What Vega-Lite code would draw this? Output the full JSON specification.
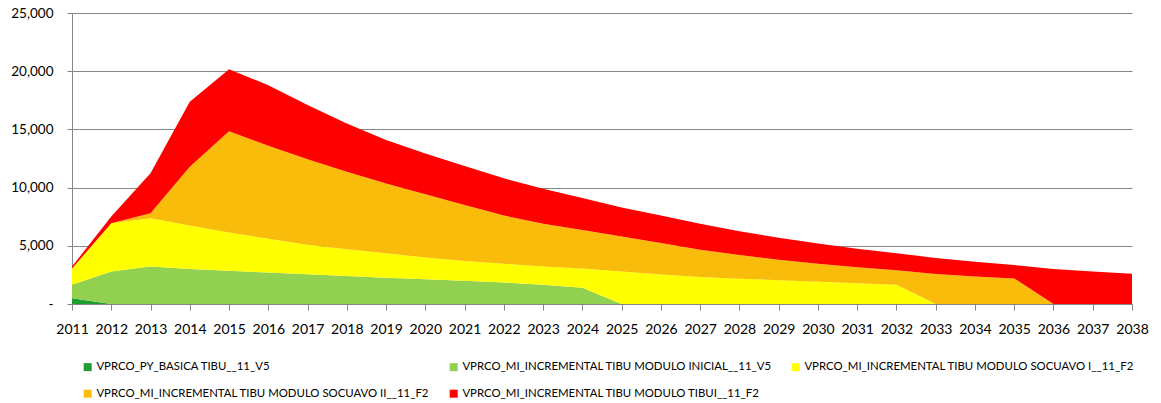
{
  "$schema": "https://vega.github.io/schema/vega-lite/v6.json",
  "autosize": "none",
  "width": 1060,
  "height": 291,
  "padding": {"left": 72, "top": 13, "right": 29, "bottom": 99},
  "background": "white",
  "config": {
    "font": "Lato",
    "view": {"stroke": null}
  },
  "data": {
    "values": [
      {"year": 2011, "VPRCO_PY_BASICA TIBU__11_V5": 500, "VPRCO_MI_INCREMENTAL TIBU MODULO INICIAL__11_V5": 1150, "VPRCO_MI_INCREMENTAL TIBU MODULO SOCUAVO I__11_F2": 1400, "VPRCO_MI_INCREMENTAL TIBU MODULO SOCUAVO II__11_F2": 0, "VPRCO_MI_INCREMENTAL TIBU MODULO TIBUI__11_F2": 170},
      {"year": 2012, "VPRCO_PY_BASICA TIBU__11_V5": 0, "VPRCO_MI_INCREMENTAL TIBU MODULO INICIAL__11_V5": 2800, "VPRCO_MI_INCREMENTAL TIBU MODULO SOCUAVO I__11_F2": 4140, "VPRCO_MI_INCREMENTAL TIBU MODULO SOCUAVO II__11_F2": 0, "VPRCO_MI_INCREMENTAL TIBU MODULO TIBUI__11_F2": 570},
      {"year": 2013, "VPRCO_PY_BASICA TIBU__11_V5": 0, "VPRCO_MI_INCREMENTAL TIBU MODULO INICIAL__11_V5": 3220, "VPRCO_MI_INCREMENTAL TIBU MODULO SOCUAVO I__11_F2": 4150, "VPRCO_MI_INCREMENTAL TIBU MODULO SOCUAVO II__11_F2": 430, "VPRCO_MI_INCREMENTAL TIBU MODULO TIBUI__11_F2": 3430},
      {"year": 2014, "VPRCO_PY_BASICA TIBU__11_V5": 0, "VPRCO_MI_INCREMENTAL TIBU MODULO INICIAL__11_V5": 3000, "VPRCO_MI_INCREMENTAL TIBU MODULO SOCUAVO I__11_F2": 3750, "VPRCO_MI_INCREMENTAL TIBU MODULO SOCUAVO II__11_F2": 5050, "VPRCO_MI_INCREMENTAL TIBU MODULO TIBUI__11_F2": 5570},
      {"year": 2015, "VPRCO_PY_BASICA TIBU__11_V5": 0, "VPRCO_MI_INCREMENTAL TIBU MODULO INICIAL__11_V5": 2850, "VPRCO_MI_INCREMENTAL TIBU MODULO SOCUAVO I__11_F2": 3300, "VPRCO_MI_INCREMENTAL TIBU MODULO SOCUAVO II__11_F2": 8700, "VPRCO_MI_INCREMENTAL TIBU MODULO TIBUI__11_F2": 5320},
      {"year": 2016, "VPRCO_PY_BASICA TIBU__11_V5": 0, "VPRCO_MI_INCREMENTAL TIBU MODULO INICIAL__11_V5": 2700, "VPRCO_MI_INCREMENTAL TIBU MODULO SOCUAVO I__11_F2": 2900, "VPRCO_MI_INCREMENTAL TIBU MODULO SOCUAVO II__11_F2": 8000, "VPRCO_MI_INCREMENTAL TIBU MODULO TIBUI__11_F2": 5200},
      {"year": 2017, "VPRCO_PY_BASICA TIBU__11_V5": 0, "VPRCO_MI_INCREMENTAL TIBU MODULO INICIAL__11_V5": 2550, "VPRCO_MI_INCREMENTAL TIBU MODULO SOCUAVO I__11_F2": 2550, "VPRCO_MI_INCREMENTAL TIBU MODULO SOCUAVO II__11_F2": 7330, "VPRCO_MI_INCREMENTAL TIBU MODULO TIBUI__11_F2": 4670},
      {"year": 2018, "VPRCO_PY_BASICA TIBU__11_V5": 0, "VPRCO_MI_INCREMENTAL TIBU MODULO INICIAL__11_V5": 2400, "VPRCO_MI_INCREMENTAL TIBU MODULO SOCUAVO I__11_F2": 2300, "VPRCO_MI_INCREMENTAL TIBU MODULO SOCUAVO II__11_F2": 6670, "VPRCO_MI_INCREMENTAL TIBU MODULO TIBUI__11_F2": 4140},
      {"year": 2019, "VPRCO_PY_BASICA TIBU__11_V5": 0, "VPRCO_MI_INCREMENTAL TIBU MODULO INICIAL__11_V5": 2250, "VPRCO_MI_INCREMENTAL TIBU MODULO SOCUAVO I__11_F2": 2100, "VPRCO_MI_INCREMENTAL TIBU MODULO SOCUAVO II__11_F2": 6000, "VPRCO_MI_INCREMENTAL TIBU MODULO TIBUI__11_F2": 3730},
      {"year": 2020, "VPRCO_PY_BASICA TIBU__11_V5": 0, "VPRCO_MI_INCREMENTAL TIBU MODULO INICIAL__11_V5": 2120, "VPRCO_MI_INCREMENTAL TIBU MODULO SOCUAVO I__11_F2": 1880, "VPRCO_MI_INCREMENTAL TIBU MODULO SOCUAVO II__11_F2": 5430, "VPRCO_MI_INCREMENTAL TIBU MODULO TIBUI__11_F2": 3510},
      {"year": 2021, "VPRCO_PY_BASICA TIBU__11_V5": 0, "VPRCO_MI_INCREMENTAL TIBU MODULO INICIAL__11_V5": 2000, "VPRCO_MI_INCREMENTAL TIBU MODULO SOCUAVO I__11_F2": 1700, "VPRCO_MI_INCREMENTAL TIBU MODULO SOCUAVO II__11_F2": 4800, "VPRCO_MI_INCREMENTAL TIBU MODULO TIBUI__11_F2": 3350},
      {"year": 2022, "VPRCO_PY_BASICA TIBU__11_V5": 0, "VPRCO_MI_INCREMENTAL TIBU MODULO INICIAL__11_V5": 1850, "VPRCO_MI_INCREMENTAL TIBU MODULO SOCUAVO I__11_F2": 1600, "VPRCO_MI_INCREMENTAL TIBU MODULO SOCUAVO II__11_F2": 4150, "VPRCO_MI_INCREMENTAL TIBU MODULO TIBUI__11_F2": 3200},
      {"year": 2023, "VPRCO_PY_BASICA TIBU__11_V5": 0, "VPRCO_MI_INCREMENTAL TIBU MODULO INICIAL__11_V5": 1650, "VPRCO_MI_INCREMENTAL TIBU MODULO SOCUAVO I__11_F2": 1580, "VPRCO_MI_INCREMENTAL TIBU MODULO SOCUAVO II__11_F2": 3670, "VPRCO_MI_INCREMENTAL TIBU MODULO TIBUI__11_F2": 3000},
      {"year": 2024, "VPRCO_PY_BASICA TIBU__11_V5": 0, "VPRCO_MI_INCREMENTAL TIBU MODULO INICIAL__11_V5": 1400, "VPRCO_MI_INCREMENTAL TIBU MODULO SOCUAVO I__11_F2": 1650, "VPRCO_MI_INCREMENTAL TIBU MODULO SOCUAVO II__11_F2": 3300, "VPRCO_MI_INCREMENTAL TIBU MODULO TIBUI__11_F2": 2750},
      {"year": 2025, "VPRCO_PY_BASICA TIBU__11_V5": 0, "VPRCO_MI_INCREMENTAL TIBU MODULO INICIAL__11_V5": 0, "VPRCO_MI_INCREMENTAL TIBU MODULO SOCUAVO I__11_F2": 2800, "VPRCO_MI_INCREMENTAL TIBU MODULO SOCUAVO II__11_F2": 3000, "VPRCO_MI_INCREMENTAL TIBU MODULO TIBUI__11_F2": 2500},
      {"year": 2026, "VPRCO_PY_BASICA TIBU__11_V5": 0, "VPRCO_MI_INCREMENTAL TIBU MODULO INICIAL__11_V5": 0, "VPRCO_MI_INCREMENTAL TIBU MODULO SOCUAVO I__11_F2": 2540, "VPRCO_MI_INCREMENTAL TIBU MODULO SOCUAVO II__11_F2": 2690, "VPRCO_MI_INCREMENTAL TIBU MODULO TIBUI__11_F2": 2370},
      {"year": 2027, "VPRCO_PY_BASICA TIBU__11_V5": 0, "VPRCO_MI_INCREMENTAL TIBU MODULO INICIAL__11_V5": 0, "VPRCO_MI_INCREMENTAL TIBU MODULO SOCUAVO I__11_F2": 2320, "VPRCO_MI_INCREMENTAL TIBU MODULO SOCUAVO II__11_F2": 2330, "VPRCO_MI_INCREMENTAL TIBU MODULO TIBUI__11_F2": 2250},
      {"year": 2028, "VPRCO_PY_BASICA TIBU__11_V5": 0, "VPRCO_MI_INCREMENTAL TIBU MODULO INICIAL__11_V5": 0, "VPRCO_MI_INCREMENTAL TIBU MODULO SOCUAVO I__11_F2": 2180, "VPRCO_MI_INCREMENTAL TIBU MODULO SOCUAVO II__11_F2": 2020, "VPRCO_MI_INCREMENTAL TIBU MODULO TIBUI__11_F2": 2050},
      {"year": 2029, "VPRCO_PY_BASICA TIBU__11_V5": 0, "VPRCO_MI_INCREMENTAL TIBU MODULO INICIAL__11_V5": 0, "VPRCO_MI_INCREMENTAL TIBU MODULO SOCUAVO I__11_F2": 2050, "VPRCO_MI_INCREMENTAL TIBU MODULO SOCUAVO II__11_F2": 1750, "VPRCO_MI_INCREMENTAL TIBU MODULO TIBUI__11_F2": 1900},
      {"year": 2030, "VPRCO_PY_BASICA TIBU__11_V5": 0, "VPRCO_MI_INCREMENTAL TIBU MODULO INICIAL__11_V5": 0, "VPRCO_MI_INCREMENTAL TIBU MODULO SOCUAVO I__11_F2": 1920, "VPRCO_MI_INCREMENTAL TIBU MODULO SOCUAVO II__11_F2": 1530, "VPRCO_MI_INCREMENTAL TIBU MODULO TIBUI__11_F2": 1750},
      {"year": 2031, "VPRCO_PY_BASICA TIBU__11_V5": 0, "VPRCO_MI_INCREMENTAL TIBU MODULO INICIAL__11_V5": 0, "VPRCO_MI_INCREMENTAL TIBU MODULO SOCUAVO I__11_F2": 1790, "VPRCO_MI_INCREMENTAL TIBU MODULO SOCUAVO II__11_F2": 1360, "VPRCO_MI_INCREMENTAL TIBU MODULO TIBUI__11_F2": 1600},
      {"year": 2032, "VPRCO_PY_BASICA TIBU__11_V5": 0, "VPRCO_MI_INCREMENTAL TIBU MODULO INICIAL__11_V5": 0, "VPRCO_MI_INCREMENTAL TIBU MODULO SOCUAVO I__11_F2": 1650, "VPRCO_MI_INCREMENTAL TIBU MODULO SOCUAVO II__11_F2": 1250, "VPRCO_MI_INCREMENTAL TIBU MODULO TIBUI__11_F2": 1470},
      {"year": 2033, "VPRCO_PY_BASICA TIBU__11_V5": 0, "VPRCO_MI_INCREMENTAL TIBU MODULO INICIAL__11_V5": 0, "VPRCO_MI_INCREMENTAL TIBU MODULO SOCUAVO I__11_F2": 0, "VPRCO_MI_INCREMENTAL TIBU MODULO SOCUAVO II__11_F2": 2570, "VPRCO_MI_INCREMENTAL TIBU MODULO TIBUI__11_F2": 1380},
      {"year": 2034, "VPRCO_PY_BASICA TIBU__11_V5": 0, "VPRCO_MI_INCREMENTAL TIBU MODULO INICIAL__11_V5": 0, "VPRCO_MI_INCREMENTAL TIBU MODULO SOCUAVO I__11_F2": 0, "VPRCO_MI_INCREMENTAL TIBU MODULO SOCUAVO II__11_F2": 2370, "VPRCO_MI_INCREMENTAL TIBU MODULO TIBUI__11_F2": 1250},
      {"year": 2035, "VPRCO_PY_BASICA TIBU__11_V5": 0, "VPRCO_MI_INCREMENTAL TIBU MODULO INICIAL__11_V5": 0, "VPRCO_MI_INCREMENTAL TIBU MODULO SOCUAVO I__11_F2": 0, "VPRCO_MI_INCREMENTAL TIBU MODULO SOCUAVO II__11_F2": 2200, "VPRCO_MI_INCREMENTAL TIBU MODULO TIBUI__11_F2": 1150},
      {"year": 2036, "VPRCO_PY_BASICA TIBU__11_V5": 0, "VPRCO_MI_INCREMENTAL TIBU MODULO INICIAL__11_V5": 0, "VPRCO_MI_INCREMENTAL TIBU MODULO SOCUAVO I__11_F2": 0, "VPRCO_MI_INCREMENTAL TIBU MODULO SOCUAVO II__11_F2": 0, "VPRCO_MI_INCREMENTAL TIBU MODULO TIBUI__11_F2": 3000},
      {"year": 2037, "VPRCO_PY_BASICA TIBU__11_V5": 0, "VPRCO_MI_INCREMENTAL TIBU MODULO INICIAL__11_V5": 0, "VPRCO_MI_INCREMENTAL TIBU MODULO SOCUAVO I__11_F2": 0, "VPRCO_MI_INCREMENTAL TIBU MODULO SOCUAVO II__11_F2": 0, "VPRCO_MI_INCREMENTAL TIBU MODULO TIBUI__11_F2": 2800},
      {"year": 2038, "VPRCO_PY_BASICA TIBU__11_V5": 0, "VPRCO_MI_INCREMENTAL TIBU MODULO INICIAL__11_V5": 0, "VPRCO_MI_INCREMENTAL TIBU MODULO SOCUAVO I__11_F2": 0, "VPRCO_MI_INCREMENTAL TIBU MODULO SOCUAVO II__11_F2": 0, "VPRCO_MI_INCREMENTAL TIBU MODULO TIBUI__11_F2": 2600}
    ]
  },
  "transform": [
    {
      "fold": [
        "VPRCO_PY_BASICA TIBU__11_V5",
        "VPRCO_MI_INCREMENTAL TIBU MODULO INICIAL__11_V5",
        "VPRCO_MI_INCREMENTAL TIBU MODULO SOCUAVO I__11_F2",
        "VPRCO_MI_INCREMENTAL TIBU MODULO SOCUAVO II__11_F2",
        "VPRCO_MI_INCREMENTAL TIBU MODULO TIBUI__11_F2"
      ],
      "as": ["series", "value"]
    },
    {
      "lookup": "series",
      "from": {
        "data": {
          "values": [
            {"series": "VPRCO_PY_BASICA TIBU__11_V5", "stackOrder": 1},
            {"series": "VPRCO_MI_INCREMENTAL TIBU MODULO INICIAL__11_V5", "stackOrder": 2},
            {"series": "VPRCO_MI_INCREMENTAL TIBU MODULO SOCUAVO I__11_F2", "stackOrder": 3},
            {"series": "VPRCO_MI_INCREMENTAL TIBU MODULO SOCUAVO II__11_F2", "stackOrder": 4},
            {"series": "VPRCO_MI_INCREMENTAL TIBU MODULO TIBUI__11_F2", "stackOrder": 5}
          ]
        },
        "key": "series",
        "fields": ["stackOrder"]
      }
    }
  ],
  "mark": {"type": "area", "interpolate": "linear"},
  "encoding": {
    "x": {
      "field": "year",
      "type": "quantitative",
      "scale": {"domain": [2011, 2038], "nice": false, "zero": false},
      "axis": {
        "title": null,
        "values": [2011, 2012, 2013, 2014, 2015, 2016, 2017, 2018, 2019, 2020, 2021, 2022, 2023, 2024, 2025, 2026, 2027, 2028, 2029, 2030, 2031, 2032, 2033, 2034, 2035, 2036, 2037, 2038],
        "format": "d",
        "grid": false,
        "domainColor": "#868686",
        "tickColor": "#868686",
        "tickSize": 6,
        "labelPadding": 12,
        "labelFontSize": 14,
        "labelColor": "#000000",
        "labelFlush": false,
        "labelOverlap": false
      }
    },
    "y": {
      "field": "value",
      "type": "quantitative",
      "stack": "zero",
      "scale": {"domain": [0, 25000], "nice": false},
      "axis": {
        "title": null,
        "values": [0, 5000, 10000, 15000, 20000, 25000],
        "labelExpr": "datum.value == 0 ? '-\u00a0\u00a0\u00a0\u00a0\u00a0\u00a0' : format(datum.value, ',')",
        "gridColor": "#868686",
        "domainColor": "#868686",
        "tickColor": "#868686",
        "tickSize": 5,
        "labelPadding": 14,
        "labelFontSize": 13.5,
        "labelColor": "#000000"
      }
    },
    "order": {"field": "stackOrder", "type": "quantitative", "sort": "ascending"},
    "color": {
      "field": "series",
      "type": "nominal",
      "scale": {
        "domain": [
          "VPRCO_PY_BASICA TIBU__11_V5",
          "VPRCO_MI_INCREMENTAL TIBU MODULO INICIAL__11_V5",
          "VPRCO_MI_INCREMENTAL TIBU MODULO SOCUAVO I__11_F2",
          "VPRCO_MI_INCREMENTAL TIBU MODULO SOCUAVO II__11_F2",
          "VPRCO_MI_INCREMENTAL TIBU MODULO TIBUI__11_F2"
        ],
        "range": ["#1E9E2E", "#92D050", "#FFFF00", "#F9BC0A", "#FF0000"]
      },
      "legend": {
        "title": null,
        "orient": "none",
        "legendX": 10,
        "legendY": 348,
        "direction": "horizontal",
        "columns": 3,
        "symbolType": "square",
        "symbolSize": 64,
        "symbolStrokeWidth": 0,
        "labelFontSize": 11.4,
        "labelColor": "#000000",
        "labelLimit": 600,
        "labelOffset": 3,
        "columnPadding": 18,
        "rowPadding": 14
      }
    }
  }
}
